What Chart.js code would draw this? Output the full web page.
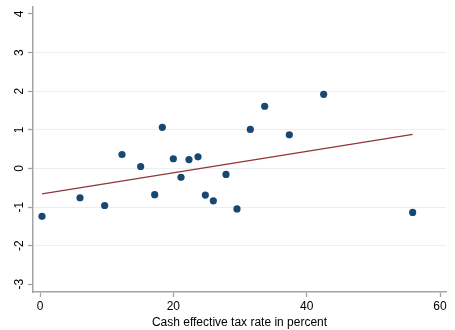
<!DOCTYPE html>
<html lang="en">
<head>
    <meta charset="UTF-8">
    <title>Cash effective tax rate scatter</title>
    <script src="https://cdn.jsdelivr.net/npm/chart.js"></script>
    <style>
        body { margin: 0; background: #fff; }
        canvas { display: block; }
    </style>
</head>
<body>
    <canvas id="scatterChart" width="455" height="330"></canvas>

    <script>
        // values
        const taxRate = [0.3, 6.0, 9.7, 12.3, 15.1, 17.2, 18.35, 20.0, 21.15, 22.35, 23.7, 24.8, 26.0, 27.9, 29.55, 31.55, 33.7, 37.4, 42.55, 55.9];
        const outcome = [-1.24, -0.76, -0.96, 0.36, 0.05, -0.68, 1.065, 0.25, -0.23, 0.23, 0.30, -0.69, -0.84, -0.155, -1.05, 1.01, 1.61, 0.87, 1.92, -1.14];

        // fitted line end points
        const fitX = [0.3, 55.9];
        const fitY = [-0.66, 0.88];

        const xTicks = [0, 20, 40, 60];
        const yTicks = [-3, -2, -1, 0, 1, 2, 3, 4];
        const xTitle = "Cash effective tax rate in percent";

        const font = '"Liberation Sans", Arial, sans-serif';
        const axisColor = "#a4a4a4";

        // y labels in Stata are turned on their side, drawn here by hand
        const rotatedYLabels = {
            id: "rotatedYLabels",
            afterDraw(chart) {
                const scale = chart.scales.y;
                const ctx = chart.ctx;
                ctx.save();
                ctx.font = "12px " + font;
                ctx.fillStyle = "#000";
                ctx.textAlign = "center";
                ctx.textBaseline = "middle";
                yTicks.forEach(v => {
                    const py = scale.getPixelForValue(v);
                    ctx.save();
                    ctx.translate(scale.right - 13, py);
                    ctx.rotate(-Math.PI / 2);
                    ctx.fillText(String(v), 0, 0);
                    ctx.restore();
                });
                ctx.restore();
            }
        };

        const ctx = document.getElementById("scatterChart").getContext("2d");
        new Chart(ctx, {
            type: "scatter",
            data: {
                datasets: [
                    {
                        data: taxRate.map((x, i) => ({ x: x, y: outcome[i] })),
                        backgroundColor: "#1a476f",
                        borderColor: "#1a476f",
                        pointRadius: 3.6,
                        borderWidth: 0
                    },
                    {
                        type: "line",
                        data: fitX.map((x, i) => ({ x: x, y: fitY[i] })),
                        borderColor: "#90353b",
                        borderWidth: 1.3,
                        pointRadius: 0,
                        fill: false
                    }
                ]
            },
            options: {
                responsive: false,
                animation: false,
                layout: { padding: { top: 7, right: 9, left: 0, bottom: 0 } },
                plugins: {
                    legend: { display: false },
                    tooltip: { enabled: false }
                },
                scales: {
                    x: {
                        type: "linear",
                        min: -1.05,
                        max: 60.9,
                        afterBuildTicks: s => { s.ticks = xTicks.map(v => ({ value: v })); },
                        afterFit: s => { s.height = 38; },
                        grid: {
                            drawOnChartArea: false,
                            tickLength: 5,
                            tickColor: axisColor,
                            tickWidth: 1.3
                        },
                        border: { color: axisColor, width: 1.5 },
                        ticks: {
                            color: "#000",
                            padding: 2,
                            maxRotation: 0,
                            font: { family: font, size: 12 }
                        },
                        title: {
                            display: true,
                            text: xTitle,
                            color: "#000",
                            padding: { top: 0, bottom: 0 },
                            font: { family: font, size: 12 }
                        }
                    },
                    y: {
                        type: "linear",
                        min: -3.2,
                        max: 4.18,
                        afterBuildTicks: s => { s.ticks = yTicks.map(v => ({ value: v })); },
                        afterFit: s => { s.width = 33; },
                        grid: {
                            color: c => (c.tick && (c.tick.value === 4 || c.tick.value === -3)) ? "rgba(0,0,0,0)" : "#e8f0f2",
                            lineWidth: 1,
                            tickLength: 5,
                            tickColor: axisColor,
                            tickWidth: 1.3
                        },
                        border: { color: axisColor, width: 1.5 },
                        ticks: { display: false }
                    }
                }
            },
            plugins: [rotatedYLabels]
        });
    </script>
</body>
</html>
